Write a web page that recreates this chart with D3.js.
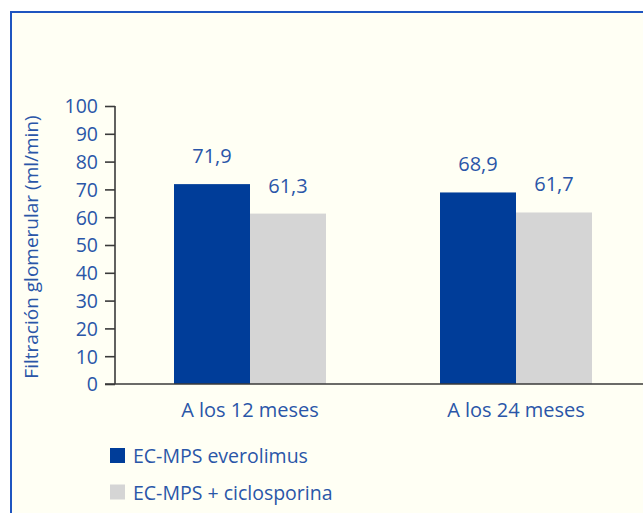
<!DOCTYPE html>
<html><head><meta charset="utf-8">
<script src="https://cdn.jsdelivr.net/npm/d3@7"></script>
<style>
html,body{margin:0;padding:0;background:#fff;}
svg{display:block;}
text{font-family:"Open Sans",sans-serif;}
</style></head><body>
<script>
const categories = ["A los 12 meses", "A los 24 meses"];
const seriesNames = ["EC-MPS everolimus", "EC-MPS + ciclosporina"];
const everolimus = [71.9, 68.9];
const ciclosporina = [61.3, 61.7];
const valueLabels = [["71,9", "61,3"], ["68,9", "61,7"]];
const yTicks = [0, 10, 20, 30, 40, 50, 60, 70, 80, 90, 100];
const yTitle = "Filtración glomerular (ml/min)";

const W = 643, H = 513;
const textColor = "#2a56a8";
const colors = ["#003d99", "#d5d5d5"];

const svg = d3.select("body").append("svg").attr("width", W).attr("height", H);

svg.append("rect").attr("x", 0).attr("y", 0).attr("width", W).attr("height", H).attr("fill", "#ffffff");
svg.append("rect").attr("x", 11).attr("y", 12).attr("width", W).attr("height", H).attr("fill", "#fffff4");
svg.append("path").attr("d", `M11,${H} V12 H${W}`).attr("fill", "none").attr("stroke", "#1f55c0").attr("stroke-width", 2);

const y = d3.scaleLinear().domain([0, 100]).range([384, 106]);
const x0 = d3.scaleBand().domain(categories).range([117, 649]);
const x1 = d3.scaleBand().domain(seriesNames).range([0, 152]);

const data = categories.map((c, i) => ({cat: c, vals: [everolimus[i], ciclosporina[i]], labels: valueLabels[i]}));

const g = svg.append("g");
data.forEach(d => {
  const cx = x0(d.cat) + x0.bandwidth() / 2 - 76;
  seriesNames.forEach((s, j) => {
    g.append("rect")
      .attr("x", cx + x1(s))
      .attr("y", y(d.vals[j]))
      .attr("width", x1.bandwidth())
      .attr("height", y(0) - y(d.vals[j]))
      .attr("fill", colors[j]);
    g.append("text")
      .attr("x", cx + x1(s) + x1.bandwidth() / 2)
      .attr("y", y(d.vals[j]) - 21)
      .attr("text-anchor", "middle")
      .attr("font-size", 20)
      .attr("fill", textColor)
      .text(d.labels[j]);
  });
});

const yAxis = svg.append("g").attr("transform", "translate(115,0)")
  .call(d3.axisLeft(y).tickValues(yTicks).tickSize(10).tickPadding(7));
yAxis.select(".domain").attr("stroke", "#3a3a3a").attr("stroke-width", 1.6).attr("d", `M0,${y(100)}V${y(0)}`);
yAxis.selectAll(".tick line").attr("stroke", "#3a3a3a").attr("stroke-width", 1.6);
yAxis.selectAll(".tick text").attr("font-size", 19.5).attr("fill", textColor).attr("font-family", "Open Sans, sans-serif").attr("dy", "0.35em");

const xAxis = svg.append("g").attr("transform", `translate(0,${y(0)})`)
  .call(d3.axisBottom(x0).tickSize(0).tickPadding(19));
xAxis.select(".domain").attr("stroke", "#3a3a3a").attr("stroke-width", 1.6).attr("d", `M105,0H${W}`);
xAxis.selectAll(".tick text").attr("font-size", 20).attr("fill", textColor).attr("font-family", "Open Sans, sans-serif").attr("dy", "0.71em");

svg.append("text")
  .attr("transform", `translate(38,${(y(0) + y(100)) / 2 + 2}) rotate(-90)`)
  .attr("text-anchor", "middle")
  .attr("font-size", 19)
  .attr("fill", textColor)
  .text(yTitle);

seriesNames.forEach((s, i) => {
  const ly = 448 + i * 36.5;
  svg.append("rect").attr("x", 110).attr("y", ly).attr("width", 15).attr("height", 15).attr("fill", colors[i]);
  svg.append("text").attr("x", 133).attr("y", ly + 15).attr("font-size", 19.5).attr("fill", textColor).text(s);
});
</script>
</body></html>
